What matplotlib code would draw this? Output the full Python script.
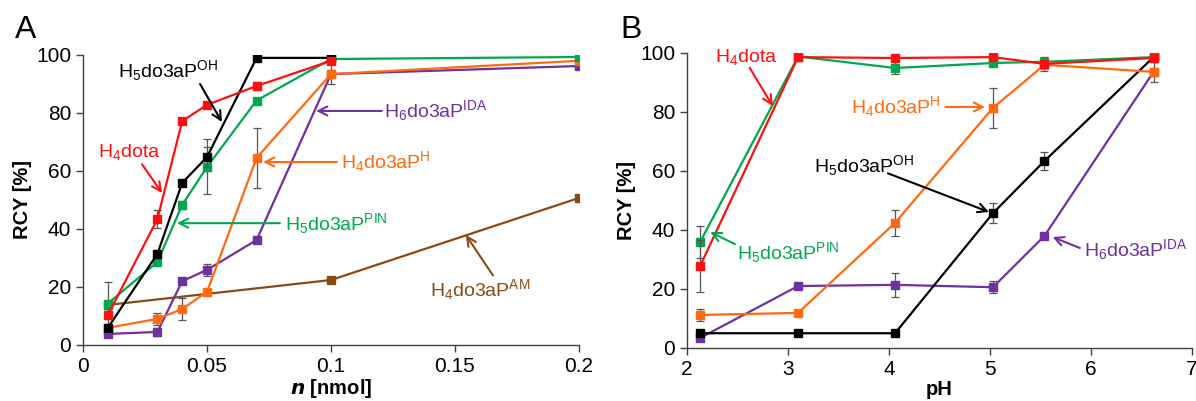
import matplotlib
matplotlib.use("Agg")
import matplotlib.pyplot as plt

plt.rcParams['font.family'] = ['Liberation Sans', 'DejaVu Sans']
plt.rcParams['mathtext.fontset'] = 'custom'
plt.rcParams['mathtext.rm'] = 'Liberation Sans'
plt.rcParams['mathtext.it'] = 'Liberation Sans:italic'
plt.rcParams['mathtext.bf'] = 'Liberation Sans:bold'

# ---------------- Panel A data ----------------
n_dota = [0.01, 0.03, 0.04, 0.05, 0.07, 0.1]
y_dota_A = [10.3, 43.4, 77.2, 82.8, 89.3, 98.0]
e_dota_A = [1.5, 3.0, 1.0, 1.0, 1.5, 1.0]

n_oh = [0.01, 0.03, 0.04, 0.05, 0.07, 0.1]
y_oh_A = [5.9, 31.4, 55.9, 64.8, 99.0, 99.0]
e_oh_A = [1.0, 1.0, 1.0, 3.5, 0.5, 0.5]

n_pin = [0.01, 0.03, 0.04, 0.05, 0.07, 0.1, 0.2]
y_pin_A = [14.3, 28.6, 48.3, 61.4, 84.3, 98.6, 99.3]
e_pin_A = [7.5, 1.0, 1.5, 9.5, 1.0, 0.5, 0.5]

n_h = [0.01, 0.03, 0.04, 0.05, 0.07, 0.1, 0.2]
y_h_A = [5.9, 9.0, 12.4, 18.3, 64.5, 93.4, 98.0]
e_h_A = [1.0, 2.0, 3.8, 1.0, 10.2, 1.0, 0.5]

n_ida = [0.01, 0.03, 0.04, 0.05, 0.07, 0.1, 0.2]
y_ida_A = [3.8, 4.5, 22.0, 25.9, 36.2, 93.4, 96.2]
e_ida_A = [0.5, 1.5, 1.0, 2.0, 1.0, 3.5, 0.5]

n_am = [0.01, 0.1, 0.2]
y_am_A = [13.8, 22.4, 50.7]
e_am_A = [0.5, 0.5, 0.5]

# ---------------- Panel B data ----------------
pH = [2.13, 3.10, 4.06, 5.03, 5.54, 6.62]
y_dota_B = [27.8, 98.6, 98.3, 98.6, 96.3, 98.3]
e_dota_B = [8.7, 0.5, 0.5, 0.5, 1.0, 0.5]
y_pin_B = [35.9, 98.8, 94.9, 96.6, 97.0, 98.6]
e_pin_B = [5.5, 0.5, 2.0, 1.0, 1.5, 0.5]
y_h_B = [11.2, 11.9, 42.4, 81.4, 96.0, 93.6]
e_h_B = [2.0, 0.5, 4.5, 6.8, 2.0, 1.0]
y_oh_B = [5.0, 5.0, 5.0, 45.7, 63.4, 98.6]
e_oh_B = [0.5, 0.5, 0.5, 3.5, 3.0, 1.5]
y_ida_B = [3.4, 21.0, 21.4, 20.6, 38.0, 93.6]
e_ida_B = [0.5, 0.5, 4.0, 2.0, 0.5, 3.5]

RED = '#FF1010'
BLACK = '#000000'
GREEN = '#00A84F'
ORANGE = '#FF6A10'
PURPLE = '#7030A0'
BROWN = '#8B4A14'
ERR = '#555555'
SPINE = '#404040'

TXT = 14
fig = plt.figure(figsize=(11.96, 4.01), dpi=100)
axA = fig.add_axes([0.0694, 0.1397, 0.4147, 0.7232])
axB = fig.add_axes([0.5744, 0.1322, 0.4222, 0.7357])


def series(ax, x, y, e, color, z):
    ax.errorbar(x, y, yerr=e, fmt='none', ecolor=ERR, elinewidth=0.9,
                capsize=3, capthick=0.9, zorder=z - 0.5)
    ax.plot(x, y, '-s', color=color, lw=1.6, ms=5.5, zorder=z,
            markeredgecolor=color)


def style(ax):
    for s in ['top', 'right']:
        ax.spines[s].set_visible(False)
    for s in ['left', 'bottom']:
        ax.spines[s].set_color(SPINE)
        ax.spines[s].set_linewidth(1.0)
    ax.tick_params(axis='both', direction='out', colors=SPINE,
                   labelcolor='black', labelsize=15, length=5, width=1.0)
    ax.set_ylim(0, 100)
    ax.set_yticks([0, 20, 40, 60, 80, 100])
    ax.set_ylabel('RCY [%]', fontsize=14.5, fontweight='bold', labelpad=3)


def arrow(ax, head, tail, color):
    ax.annotate('', xy=head, xytext=tail,
                arrowprops=dict(arrowstyle='->', color=color, lw=1.5,
                                mutation_scale=16, shrinkA=0, shrinkB=0),
                zorder=20)


def label(ax, text, xy, color, ha='center'):
    ax.text(xy[0], xy[1], text, color=color, fontsize=TXT, ha=ha,
            va='center', zorder=20)


# Panel A
series(axA, n_am, y_am_A, e_am_A, BROWN, 3)
series(axA, n_ida, y_ida_A, e_ida_A, PURPLE, 4)
series(axA, n_h, y_h_A, e_h_A, ORANGE, 5)
series(axA, n_pin, y_pin_A, e_pin_A, GREEN, 6)
series(axA, n_oh, y_oh_A, e_oh_A, BLACK, 7)
series(axA, n_dota, y_dota_A, e_dota_A, RED, 8)
style(axA)
axA.set_xlim(0, 0.2)
axA.set_xticks([0, 0.05, 0.1, 0.15, 0.2])
axA.set_xticklabels(['0', '0.05', '0.1', '0.15', '0.2'])
axA.set_xlabel(r'$\mathbfit{n}$ [nmol]', fontsize=14.5, fontweight='bold', labelpad=1)

label(axA, r'H$_4$dota', (0.0185, 66.5), RED)
arrow(axA, (0.0319, 52.4), (0.0238, 62.3), RED)
label(axA, r'H$_5$do3aP$^{\mathrm{OH}}$', (0.0343, 94.5), BLACK)
arrow(axA, (0.056, 76.9), (0.0472, 90.0), BLACK)
label(axA, r'H$_6$do3aP$^{\mathrm{IDA}}$', (0.1215, 80.7), PURPLE, ha='left')
arrow(axA, (0.094, 80.7), (0.1205, 80.7), PURPLE)
label(axA, r'H$_4$do3aP$^{\mathrm{H}}$', (0.1040, 63.1), ORANGE, ha='left')
arrow(axA, (0.0726, 63.1), (0.1024, 63.1), ORANGE)
label(axA, r'H$_5$do3aP$^{\mathrm{PIN}}$', (0.0814, 42.0), GREEN, ha='left')
arrow(axA, (0.0379, 42.0), (0.0794, 42.0), GREEN)
label(axA, r'H$_4$do3aP$^{\mathrm{AM}}$', (0.1600, 19.0), BROWN)
arrow(axA, (0.1544, 37.9), (0.1653, 24.0), BROWN)

# Panel B
series(axB, pH, y_ida_B, e_ida_B, PURPLE, 4)
series(axB, pH, y_oh_B, e_oh_B, BLACK, 5)
series(axB, pH, y_h_B, e_h_B, ORANGE, 6)
series(axB, pH, y_pin_B, e_pin_B, GREEN, 7)
series(axB, pH, y_dota_B, e_dota_B, RED, 8)
style(axB)
axB.set_xlim(2, 7)
axB.set_xticks([2, 3, 4, 5, 6, 7])
axB.set_xlabel('pH', fontsize=14.5, fontweight='bold', labelpad=1)

label(axB, r'H$_4$dota', (2.59, 98.6), RED)
arrow(axB, (2.85, 82.0), (2.62, 95.0), RED)
label(axB, r'H$_4$do3aP$^{\mathrm{H}}$', (4.51, 81.7), ORANGE, ha='right')
arrow(axB, (4.95, 81.7), (4.56, 81.7), ORANGE)
label(axB, r'H$_5$do3aP$^{\mathrm{OH}}$', (3.75, 62.0), BLACK)
arrow(axB, (4.99, 46.1), (3.99, 59.2), BLACK)
label(axB, r'H$_5$do3aP$^{\mathrm{PIN}}$', (2.5, 32.5), GREEN, ha='left')
arrow(axB, (2.23, 39.3), (2.475, 35.2), GREEN)
label(axB, r'H$_6$do3aP$^{\mathrm{IDA}}$', (5.93, 33.5), PURPLE, ha='left')
arrow(axB, (5.62, 37.6), (5.89, 33.9), PURPLE)

fig.text(0.0125, 0.925, 'A', fontsize=23, ha='left', va='center')
fig.text(0.519, 0.925, 'B', fontsize=23, ha='left', va='center')

fig.savefig('out.png', dpi=100)
